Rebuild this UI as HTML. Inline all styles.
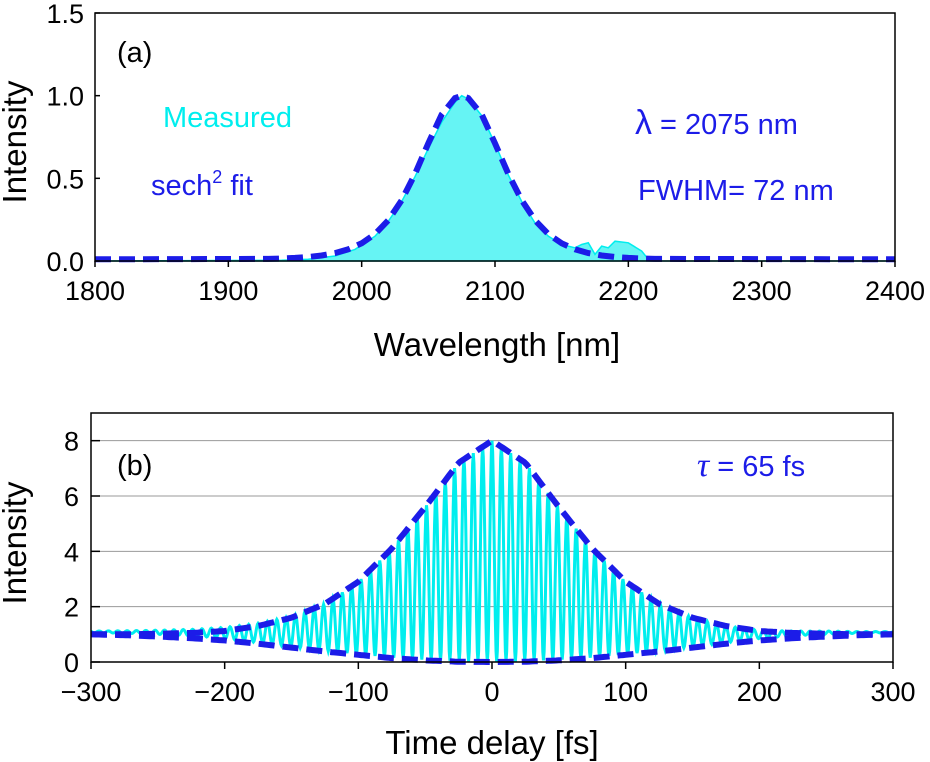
<!DOCTYPE html>
<html><head><meta charset="utf-8"><style>
html,body{margin:0;padding:0;background:#fff;width:930px;height:762px;overflow:hidden}
svg{display:block;font-family:"Liberation Sans",Arial,sans-serif}
</style></head><body>
<svg id="chart" width="930" height="762" viewBox="0 0 930 762" xmlns="http://www.w3.org/2000/svg">
<g id="pa"></g>
<g id="pb"></g>
</svg>
<script>
// ---- Panel (a) data ----
const specXTicks = [1800,1900,2000,2100,2200,2300,2400];
const specYTicks = [0.0,0.5,1.0,1.5];
const specYTickLabels = ["0.0","0.5","1.0","1.5"];
const measWl = [1800,1940,1960,1980,1995,2010,2020,2030,2040,2050,2060,2070,2075,2080,2090,2100,2110,2120,2130,2140,2150,2160,2165,2170,2175,2180,2185,2190,2200,2210,2215,2220,2400];
const measVal = [0.0,0.005,0.01,0.03,0.07,0.15,0.24,0.36,0.51,0.68,0.84,0.96,1.0,0.98,0.88,0.71,0.52,0.36,0.23,0.15,0.1,0.08,0.1,0.11,0.04,0.09,0.08,0.12,0.11,0.06,0.01,0.0,0.0];
const fitWl = [1800,1930,1940,1950,1960,1970,1980,1990,2000,2010,2020,2030,2040,2050,2060,2070,2075,2080,2090,2100,2110,2120,2130,2140,2150,2160,2170,2180,2190,2200,2210,2220,2400];
const fitVal = [0.01,0.013,0.015,0.019,0.024,0.033,0.048,0.071,0.107,0.163,0.247,0.368,0.527,0.712,0.886,0.985,1.0,0.985,0.886,0.712,0.527,0.368,0.247,0.163,0.107,0.071,0.048,0.033,0.024,0.019,0.015,0.013,0.01];
// ---- Panel (b) data ----
const acXTicks = [-300,-200,-100,0,100,200,300];
const acXTickLabels = ["\u2212300","\u2212200","\u2212100","0","100","200","300"];
const acYTicks = [0,2,4,6,8];
const envT = [-300,-275,-250,-225,-200,-175,-150,-125,-100,-75,-50,-25,0,25,50,75,100,125,150,175,200,225,250,275,300];
const fitUpper = [1.0,1.0,1.02,1.05,1.12,1.3,1.6,2.1,2.9,4.1,5.6,7.2,8.0,7.2,5.6,4.1,2.9,2.1,1.6,1.3,1.12,1.05,1.02,1.0,1.0];
const fitLower = [1.0,0.97,0.92,0.86,0.78,0.66,0.52,0.38,0.26,0.14,0.06,0.01,0.0,0.01,0.06,0.14,0.26,0.38,0.52,0.66,0.78,0.86,0.92,0.97,1.0];
const measUpper = [1.12,1.13,1.15,1.18,1.25,1.4,1.65,2.1,2.9,4.1,5.6,7.2,8.0,7.2,5.6,4.1,2.9,2.1,1.6,1.3,1.15,1.12,1.12,1.1,1.1];
const measLower = [1.06,1.04,1.0,0.95,0.85,0.7,0.55,0.4,0.28,0.16,0.08,0.03,0.0,0.03,0.08,0.16,0.28,0.4,0.55,0.7,0.85,0.95,1.0,1.04,1.06];
const fringePeriod = 7.0;

const NS="http://www.w3.org/2000/svg";
function mk(parent,tag,attrs,text){const e=document.createElementNS(NS,tag);for(const k in attrs)e.setAttribute(k,attrs[k]);if(text!==undefined)e.textContent=text;parent.appendChild(e);return e;}
function interp(xs,ys,x){if(x<=xs[0])return ys[0];for(let i=1;i<xs.length;i++){if(x<=xs[i]){const f=(x-xs[i-1])/(xs[i]-xs[i-1]);return ys[i-1]+f*(ys[i]-ys[i-1]);}}return ys[ys.length-1];}
const BLUE="#1c1ce8", CYAN="#00eeee";
const TICKF=27, TITLEF=33, ANNF=29;

// ---------- Panel A ----------
(function(){
const g=document.getElementById('pa');
const L=95,R=895,T=13,B=261;
const xs=v=>L+(v-1800)/600*(R-L);
const ys=v=>B-v/1.5*(B-T);
let d="M"+xs(measWl[0])+","+ys(0);
measWl.forEach((w,i)=>{d+=" L"+xs(w).toFixed(1)+","+ys(measVal[i]).toFixed(1);});
d+=" L"+xs(measWl[measWl.length-1])+","+ys(0)+" Z";
const area=mk(g,'path',{d:d,fill:"#66f4f4",stroke:CYAN,"stroke-width":1.5});


let fd="";
fitWl.forEach((w,i)=>{fd+=(i?" L":"M")+xs(w).toFixed(1)+","+ys(fitVal[i]).toFixed(1);});
const fit=mk(g,'path',{d:fd,fill:"none",stroke:BLUE,"stroke-width":6,"stroke-dasharray":"16,8"});


const box=mk(g,'rect',{x:L,y:T,width:R-L,height:B-T,fill:"none",stroke:"#000","stroke-width":1.5});


specXTicks.forEach(v=>{
 mk(g,'line',{x1:xs(v),x2:xs(v),y1:B,y2:B+6,stroke:"#000","stroke-width":1.5});
 const t=mk(g,'text',{x:xs(v),y:B+39,"font-size":TICKF,"text-anchor":"middle"},String(v));
 
 
});
specYTicks.forEach((v,i)=>{
 mk(g,'line',{x1:L,x2:L+5,y1:ys(v),y2:ys(v),stroke:"#000","stroke-width":1.5});
 const t=mk(g,'text',{x:L-11,y:ys(v)+10,"font-size":TICKF,"text-anchor":"end"},specYTickLabels[i]);
 
 
});
const xt=mk(g,'text',{x:497,y:356,"font-size":TITLEF,"text-anchor":"middle"},"Wavelength [nm]");


const yt=mk(g,'text',{x:0,y:0,"font-size":TITLEF,"text-anchor":"middle",transform:"translate(26,142) rotate(-90)"},"Intensity");


const pl=mk(g,'text',{x:117,y:62,"font-size":ANNF},"(a)");


const m=mk(g,'text',{x:163,y:127,"font-size":ANNF,fill:CYAN},"Measured");


const s=mk(g,'text',{x:151,y:195,"font-size":ANNF,fill:BLUE});
s.innerHTML='sech<tspan dy="-12" font-size="18">2</tspan><tspan dy="12"> fit</tspan>';


const lam=mk(g,'text',{x:635,y:134,"font-size":ANNF,fill:BLUE});
lam.innerHTML='<tspan font-size="34">\u03bb</tspan> = 2075 nm';


const fw=mk(g,'text',{x:638,y:200,"font-size":ANNF,fill:BLUE},"FWHM= 72 nm");


})();

// ---------- Panel B ----------
(function(){
const g=document.getElementById('pb');
const L=91,R=893,T=413,B=662;
const xs=v=>L+(v+300)/600*(R-L);
const ys=v=>B-v/9*(B-T);
acYTicks.forEach(v=>{ if(v>0){const gl=mk(g,'line',{x1:L,x2:R,y1:ys(v),y2:ys(v),stroke:"#999","stroke-width":1});
 
 }});
let d="";
for(let t=-300;t<=300;t+=0.5){
 const u=interp(envT,measUpper,t), l=interp(envT,measLower,t);
 const v=(u+l)/2+(u-l)/2*Math.cos(2*Math.PI*t/fringePeriod);
 d+=(t===-300?"M":" L")+xs(t).toFixed(2)+","+ys(v).toFixed(2);
}
const tr=mk(g,'path',{d:d,fill:"none",stroke:CYAN,"stroke-width":3});


function env(arr,name){
 let p="";
 for(let t=-300;t<=300;t+=2){p+=(t===-300?"M":" L")+xs(t).toFixed(1)+","+ys(interp(envT,arr,t)).toFixed(1);}
 const e=mk(g,'path',{d:p,fill:"none",stroke:BLUE,"stroke-width":6,"stroke-dasharray":"16,8"});
 
 
}
env(fitUpper,'fit-upper-envelope');
env(fitLower,'fit-lower-envelope');
const box=mk(g,'rect',{x:L,y:T,width:R-L,height:B-T,fill:"none",stroke:"#000","stroke-width":1.5});


acXTicks.forEach((v,i)=>{
 mk(g,'line',{x1:xs(v),x2:xs(v),y1:B,y2:B+7,stroke:"#000","stroke-width":1.5});
 const t=mk(g,'text',{x:xs(v),y:B+39,"font-size":TICKF,"text-anchor":"middle"},acXTickLabels[i]);
 
 
});
acYTicks.forEach(v=>{
 mk(g,'line',{x1:L,x2:L+9,y1:ys(v),y2:ys(v),stroke:"#000","stroke-width":1.5});
 const t=mk(g,'text',{x:L-12,y:ys(v)+10,"font-size":TICKF,"text-anchor":"end"},String(v));
 
 
});
const xt=mk(g,'text',{x:492,y:754,"font-size":TITLEF,"text-anchor":"middle"},"Time delay [fs]");


const yt=mk(g,'text',{x:0,y:0,"font-size":TITLEF,"text-anchor":"middle",transform:"translate(26,543) rotate(-90)"},"Intensity");


const pl=mk(g,'text',{x:117,y:475,"font-size":ANNF},"(b)");


const tau=mk(g,'text',{x:697,y:476,"font-size":ANNF,fill:BLUE});
tau.innerHTML='<tspan font-family="Liberation Serif" font-style="italic" font-size="34">\u03c4</tspan> = 65 fs';


})();
</script>
</body></html>
